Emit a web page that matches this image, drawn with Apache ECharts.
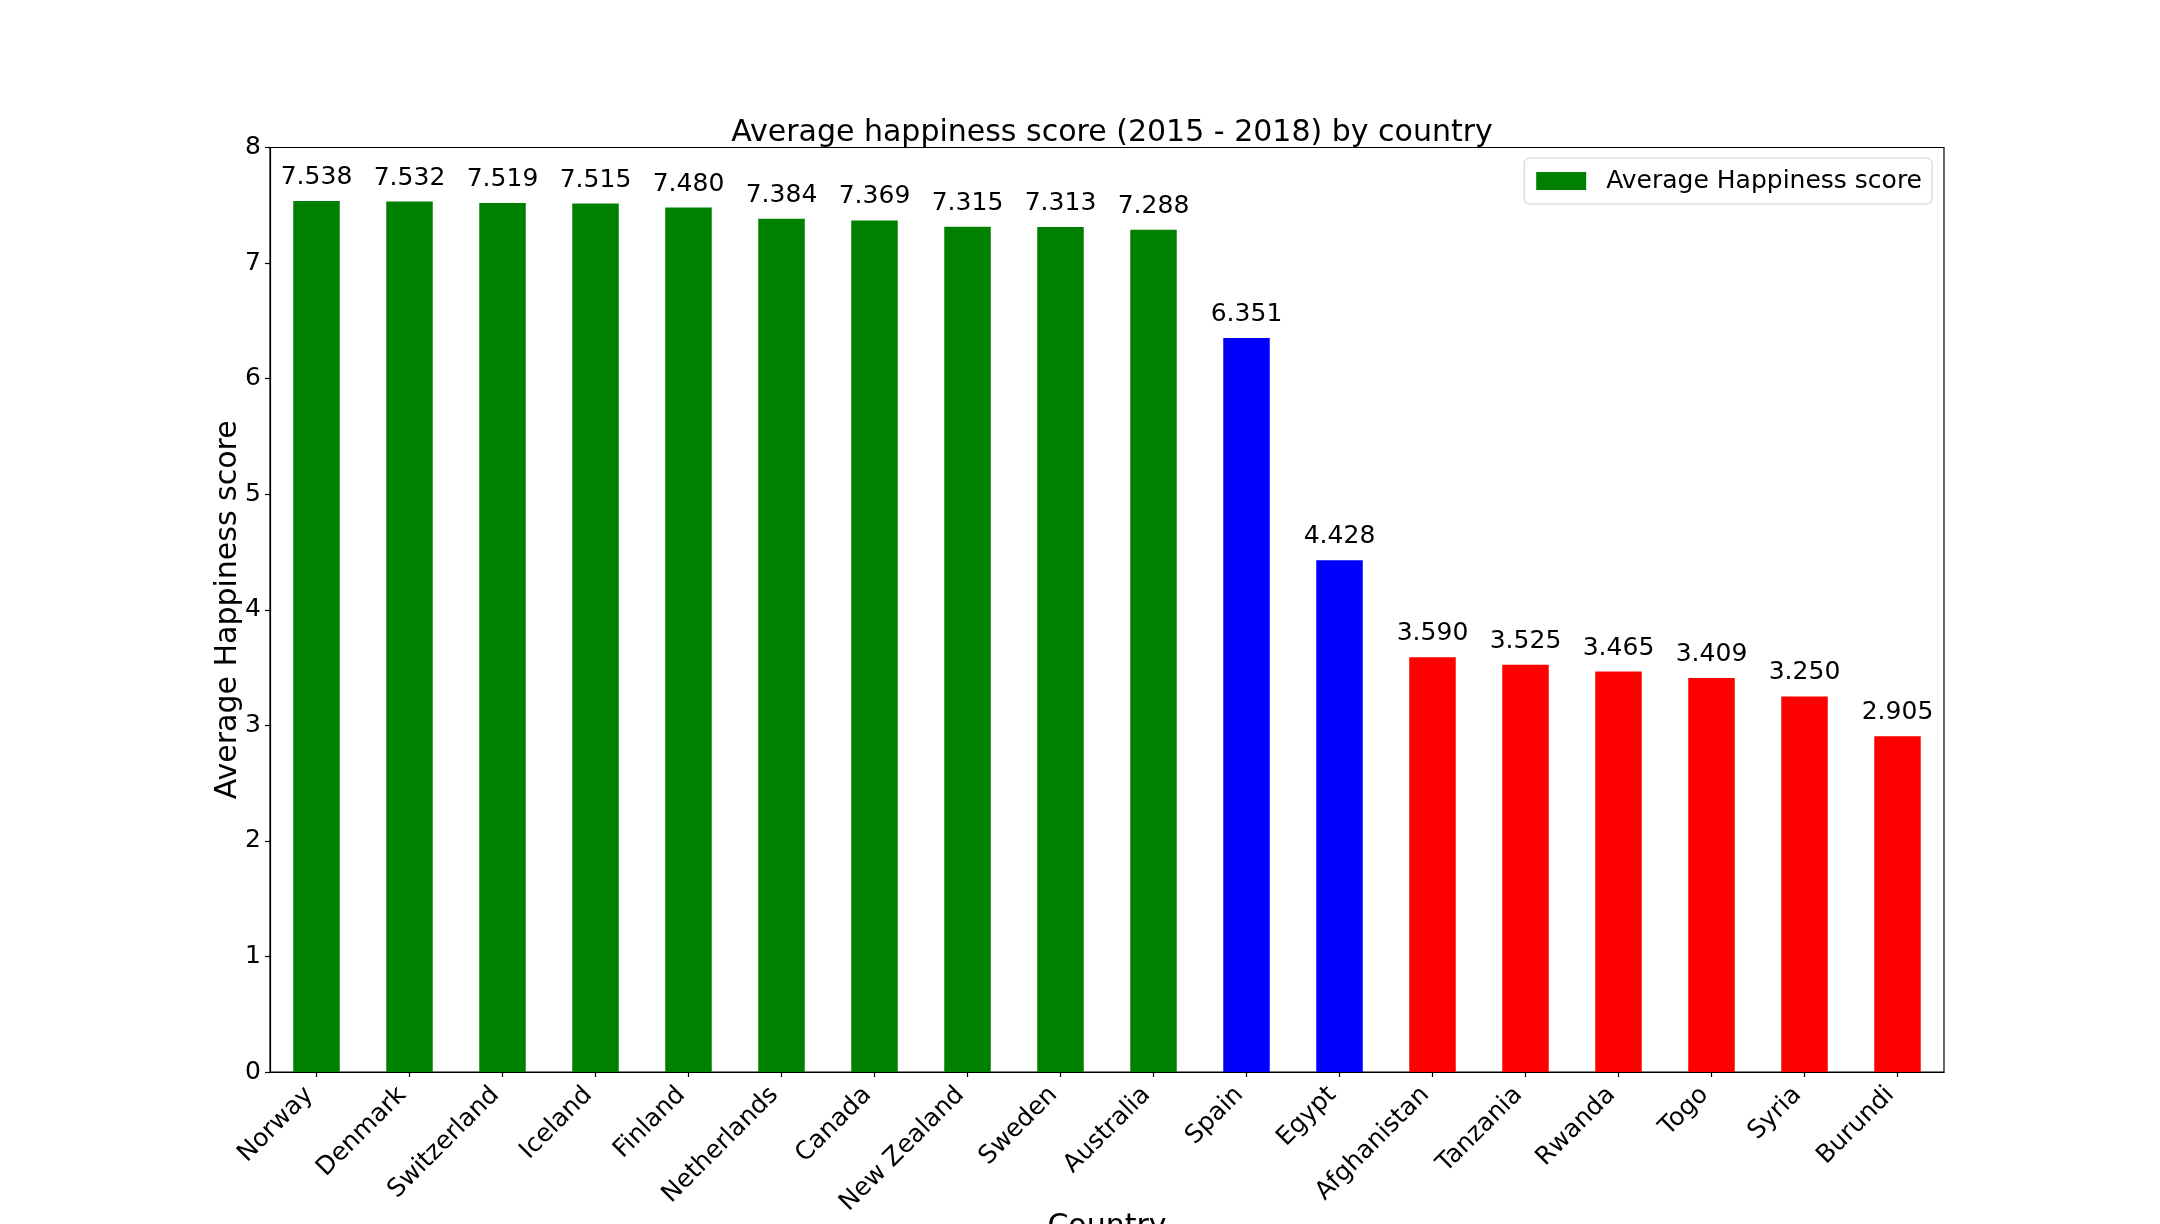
<!DOCTYPE html>
<html>
<head>
<meta charset="utf-8">
<style>html,body{margin:0;padding:0;background:#fff;}#c{width:2160px;height:1224px;}</style>
<script src="https://cdn.jsdelivr.net/npm/echarts@6/dist/echarts.min.js"></script>
</head>
<body>
<div id="c"></div>
<script>
const countries = ['Norway','Denmark','Switzerland','Iceland','Finland','Netherlands','Canada','New Zealand','Sweden','Australia','Spain','Egypt','Afghanistan','Tanzania','Rwanda','Togo','Syria','Burundi'];
const scores = [7.538,7.532,7.519,7.515,7.480,7.384,7.369,7.315,7.313,7.288,6.351,4.428,3.590,3.525,3.465,3.409,3.250,2.905];
const groups = ['top','top','top','top','top','top','top','top','top','top','middle','middle','bottom','bottom','bottom','bottom','bottom','bottom'];
const yTicks = [0,1,2,3,4,5,6,7,8];

const groupColor = {top:'#008000', middle:'#0000ff', bottom:'#ff0000'};
const FONT = 'DejaVu Sans';

const chart = echarts.init(document.getElementById('c'), null, {renderer:'canvas'});
chart.setOption({
  animation:false,
  backgroundColor:'#ffffff',
  title:{
    text:'Average happiness score (2015 - 2018) by country',
    left:1107, textAlign:'center', top:113,
    textStyle:{fontFamily:FONT, fontSize:30, fontWeight:'normal', color:'#000'}
  },
  legend:{
    right:228, top:158,
    itemWidth:50, itemHeight:18,
    padding:[8,10,8,12],
    borderColor:'#cccccc', borderWidth:1, borderRadius:5,
    backgroundColor:'#ffffff',
    icon:'rect',
    textStyle:{fontFamily:FONT, fontSize:25, color:'#000', padding:[0,0,0,15], lineHeight:30},
    data:['Average Happiness score']
  },
  grid:{left:270, right:216, top:147.5, bottom:152, outerBoundsMode:'none', containLabel:false,
    show:true, borderColor:'#000', borderWidth:1.2, backgroundColor:'transparent'},
  xAxis:{
    type:'category', data:countries,
    boundaryGap:true,
    name:'Country', nameLocation:'middle', nameGap:140,
    nameMoveOverlap:false,
    nameTextStyle:{fontFamily:FONT, fontSize:30, color:'#000'},
    axisLine:{show:true, lineStyle:{color:'#000', width:1.2}},
    axisTick:{show:true, alignWithLabel:true, length:5, lineStyle:{color:'#000', width:1.2}},
    axisLabel:{rotate:45, interval:0, margin:12, padding:[0,10,0,0], fontFamily:FONT, fontSize:25, color:'#000'},
    splitLine:{show:false}
  },
  yAxis:{
    type:'value', min:yTicks[0], max:yTicks[yTicks.length-1], interval:1,
    name:'Average Happiness score', nameLocation:'middle', nameGap:27, nameRotate:90,
    nameMoveOverlap:false,
    nameTextStyle:{fontFamily:FONT, fontSize:30, color:'#000'},
    axisLine:{show:true, lineStyle:{color:'#000', width:1.2}},
    axisTick:{show:true, length:5, lineStyle:{color:'#000', width:1.2}},
    axisLabel:{margin:9, fontFamily:FONT, fontSize:25, color:'#000'},
    splitLine:{show:false}
  },
  series:[{
    name:'Average Happiness score',
    type:'bar',
    barWidth:'50%',
    itemStyle:{color:'#008000'},
    data:scores.map((v,i)=>({value:v, itemStyle:{color:groupColor[groups[i]]}})),
    label:{show:true, position:'top', distance:11, fontFamily:FONT, fontSize:25, color:'#000',
      formatter:p=>p.value.toFixed(3)}
  }]
});
</script>
</body>
</html>
